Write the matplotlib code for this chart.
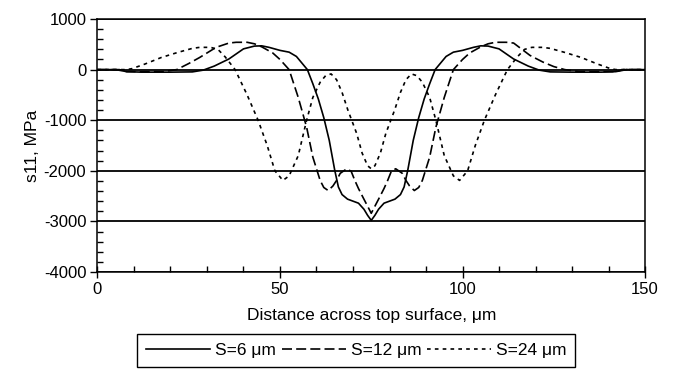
#! /usr/bin/env python3
from matplotlib import pyplot as plt
from matplotlib.ticker import MultipleLocator

plt.rcParams["font.family"] = ["Liberation Sans", "DejaVu Sans"]
plt.rcParams["axes.unicode_minus"] = False

# S=6 um (solid)
x_s6 = [0, 5, 8, 12, 20, 26, 29, 32, 36, 40, 43, 45, 47, 50, 52.5, 54.5, 56, 57.5,
        59, 60.5, 62, 63.5, 65, 66, 67, 68.5, 70, 71.5, 73, 74, 75,
        76, 77, 78.5, 80, 81.5, 83, 84, 85, 86.5, 88, 89.5, 91, 92.5, 94, 95.5,
        97.5, 100, 103, 105, 107, 110, 114, 118, 121, 124, 130, 138, 142, 145, 150]
y_s6 = [0, 0, -40, -50, -50, -45, -10, 70, 210, 410, 465, 470, 440, 380, 345, 260, 130, 0,
        -280, -580, -950, -1400, -1990, -2320, -2470, -2560, -2600, -2640, -2760, -2880, -2980,
        -2880, -2760, -2640, -2600, -2560, -2470, -2320, -1990, -1400, -950, -580, -280, 0, 130, 260,
        345, 380, 440, 470, 465, 410, 210, 70, -10, -45, -50, -50, -40, 0, 0]

# S=12 um (dashed)
x_s12 = [0, 6, 8, 18, 21.7, 25, 28, 32.5, 36, 38, 41, 43, 45, 48, 50, 52.5, 55, 57.3,
         59, 61, 62, 63.2, 64.5, 65.5, 66.5, 68.3, 69.5, 70.5, 71.5, 72.7, 74, 75,
         76, 77.3, 78.5, 79.5, 80.5, 81.7, 83.5, 84.5, 85.5, 86.8, 88, 89, 91, 92.7,
         95, 97.5, 100, 102, 105, 107, 109, 112, 114, 118.5, 122, 125, 128, 132, 142, 144, 150]
y_s12 = [0, 0, -40, -40, 0, 120, 240, 440, 525, 540, 540, 510, 450, 330, 200, 0, -550, -1140,
         -1730, -2190, -2330, -2390, -2300, -2190, -2050, -1960, -2010, -2190, -2350, -2520, -2700, -2840,
         -2700, -2520, -2350, -2190, -2010, -1960, -2050, -2190, -2300, -2390, -2330, -2190, -1730, -1140,
         -550, 0, 200, 330, 450, 510, 540, 540, 525, 280, 150, 60, 0, -40, -40, 0, 0]

# S=24 um (dotted)
x_s24 = [0, 8, 9.5, 13, 17.5, 22, 26, 28, 31, 33, 35, 37.7, 41, 44, 46.5, 48.6, 50.8,
         52.5, 55, 57.3, 59, 61, 62.5, 64, 65.5, 67, 68.6, 71, 72.5, 74, 75,
         76, 77.5, 79, 81.4, 83, 84.5, 86, 87.5, 89, 91, 92.7, 95, 97.5, 99.2, 101.4,
         103.5, 106, 109, 112.3, 115, 117, 119, 122, 124, 128, 132.5, 137, 140.5, 142, 150]
y_s24 = [0, 0, 20, 110, 240, 340, 420, 440, 440, 400, 250, 0, -500, -1000, -1500, -2000, -2190,
         -2100, -1700, -1000, -550, -250, -120, -85, -200, -450, -800, -1260, -1650, -1900, -1960,
         -1900, -1650, -1260, -800, -450, -200, -85, -120, -250, -550, -1000, -1700, -2100, -2190, -2000,
         -1500, -1000, -500, 0, 250, 400, 440, 440, 420, 340, 240, 110, 20, 0, 0]

fig = plt.figure(figsize=(6.75, 3.7), dpi=100)
ax = fig.add_axes([0.1444, 0.2649, 0.8112, 0.6837])

ax.plot(x_s6, y_s6, color="black", lw=1.2, label="S=6 μm")
ax.plot(x_s12, y_s12, color="black", lw=1.2, dashes=(6, 2.5), label="S=12 μm")
ax.plot(x_s24, y_s24, color="black", lw=1.2, dashes=(2.2, 2.5), label="S=24 μm")

ax.set_xlim(0, 150)
ax.set_ylim(-4000, 1000)
ax.xaxis.set_major_locator(MultipleLocator(50))
ax.xaxis.set_minor_locator(MultipleLocator(10))
ax.yaxis.set_major_locator(MultipleLocator(1000))
ax.yaxis.set_minor_locator(MultipleLocator(200))
ax.tick_params(axis="x", which="major", direction="inout", length=8, width=1, labelsize=12, pad=3)
ax.tick_params(axis="x", which="minor", direction="in", length=4, width=1)
ax.tick_params(axis="y", which="major", direction="out", length=5, width=1, labelsize=12, pad=3)
ax.tick_params(axis="y", which="minor", direction="in", length=4, width=1)
ax.yaxis.grid(True, which="major", color="black", lw=1.3)
for s in ax.spines.values():
    s.set_linewidth(1.1)

ax.set_xlabel("Distance across top surface, μm", fontsize=12.5, labelpad=8)
ax.set_ylabel("s11, MPa", fontsize=12.5, labelpad=3)

ax.legend(loc="upper center", bbox_to_anchor=(0.528, 0.0973), bbox_transform=fig.transFigure,
          ncol=3, fontsize=12.5, handlelength=3.7, handletextpad=0.3, columnspacing=0.3,
          frameon=True, fancybox=False, framealpha=1, edgecolor="black", borderpad=0.5,
          borderaxespad=0)

plt.savefig("out.png", dpi=100)
